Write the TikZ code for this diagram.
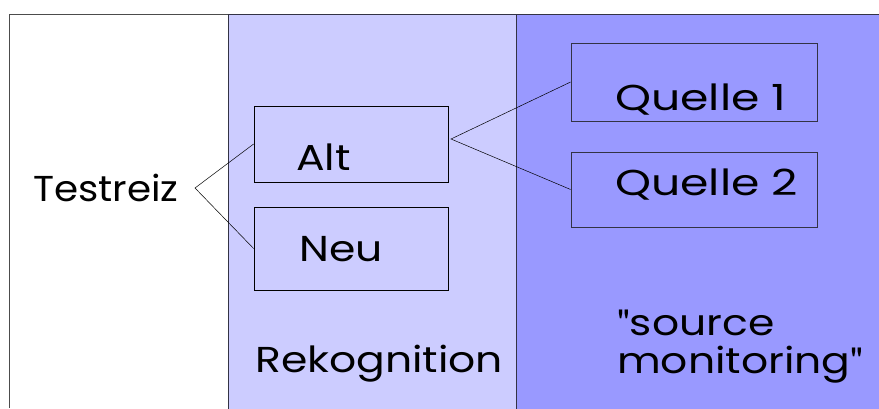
\documentclass[tikz,border=0pt]{standalone}
\usepackage{fontspec}
\setmainfont{Poppins}
\newfontfamily\quotefont{TeX Gyre Heros}
\usetikzlibrary{positioning}

\definecolor{lightlila}{HTML}{CCCCFF}
\definecolor{darklila}{HTML}{9999FF}
\definecolor{rim}{HTML}{333344}

\newcommand{\dq}{{\quotefont\symbol{34}}}

\tikzset{
  box/.style={draw=black, line width=0.8pt, minimum width=194pt, minimum height=76pt, inner sep=0pt},
  qbox/.style={draw=rim, line width=0.8pt, minimum width=246pt, minimum height=77pt, inner sep=0pt},
  txt/.style={anchor=base west, inner sep=0pt, font=\fontsize{36}{38}\selectfont\addfontfeature{FakeStretch=#1}},
  txt/.default=1.18,
  fork/.style={line width=0.5pt}
}

\begin{document}
\begin{tikzpicture}[x=1pt, y=-1pt]
			%%%%% START %%%%%
			\useasboundingbox (0, 0) rectangle (879, 408);
			
			\draw[fill=white, draw=black!70, line width=1pt] (9.5, 408) -- (9.5, 14) -- (228, 14);
			\draw[fill=lightlila, draw=rim, line width=1pt] (228, 420) -- (228, 14) -- (516, 14) -- (516, 420);
			\draw[fill=darklila, draw=rim, line width=1pt] (516, 420) -- (516, 14) -- (890, 14) -- (890, 420);
			
			\node[box] (alt) at (351, 144) {};
			\node[box, minimum height=83pt] (neu) at (351, 248.5) {};
			\node[qbox, minimum height=78pt] (q1) at (694, 82) {};
			\node[qbox, minimum height=75pt] (q2) at (694, 189.5) {};
			
			\node[txt=1.08] (testreiz) at (33, 201) {Testreiz};
			\node[txt] (alttxt) at (296, 170) {Alt};
			\node[txt] (neutxt) at (299, 261) {Neu};
			\node[txt=1.27] (q1txt) at (615, 110) {Quelle 1};
			\node[txt=1.27] (q2txt) at (615, 195) {Quelle 2};
			\node[txt] (rekog) at (255, 372) {Rekognition};
			\node[txt] (source) at (617, 335) {\dq source};
			\node[txt] (monit) at (617, 373) {monitoring\dq};
			
			\coordinate (split) at (195, 188);
			\coordinate (split2) at (451, 139);
			
			\draw[fork] (alt.west) -- (split) -- (neu.west);
			\draw[fork] (q1.west) -- (split2) -- (q2.west);
			
			%%%%% END %%%%%
\end{tikzpicture}
\end{document}
